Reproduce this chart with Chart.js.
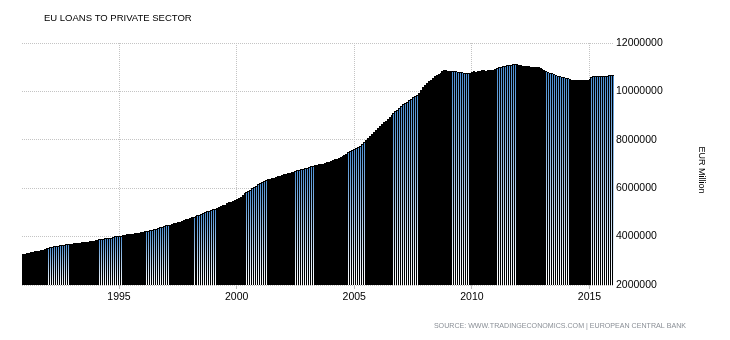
<!DOCTYPE html>
<html><head><meta charset="utf-8">
<script src="https://cdn.jsdelivr.net/npm/chart.js@4"></script>
<style>html,body{margin:0;padding:0;background:#fff}#wrap{width:730px;height:340px}</style>
</head><body><div id="wrap"><canvas id="c" width="730" height="340"></canvas></div>
<script>
const chartTitle = 'EU LOANS TO PRIVATE SECTOR';
const unitLabel = 'EUR Million';
const sourceText = 'SOURCE: WWW.TRADINGECONOMICS.COM | EUROPEAN CENTRAL BANK';
const firstYear = 1990, firstMonth = 12;
const yearTickLabels = ['1995', '2000', '2005', '2010', '2015'];
const yMin = 2000000, yMax = 12000000, yStep = 2000000;

// Monthly values, Dec 1990 .. Dec 1999
const values1990s = [
  3280000,
  3300000, 3320000, 3340000, 3350000, 3370000, 3390000, 3400000, 3420000, 3440000, 3460000, 3490000, 3520000,
  3540000, 3560000, 3580000, 3600000, 3610000, 3620000, 3640000, 3650000, 3660000, 3680000, 3690000, 3700000,
  3710000, 3720000, 3730000, 3740000, 3750000, 3760000, 3770000, 3780000, 3790000, 3800000, 3810000, 3820000,
  3840000, 3860000, 3890000, 3900000, 3910000, 3930000, 3940000, 3950000, 3960000, 3980000, 4010000, 4020000,
  4030000, 4040000, 4060000, 4080000, 4090000, 4100000, 4110000, 4120000, 4140000, 4150000, 4160000, 4180000,
  4200000, 4220000, 4230000, 4250000, 4270000, 4290000, 4310000, 4330000, 4350000, 4380000, 4410000, 4440000,
  4460000, 4480000, 4500000, 4520000, 4550000, 4570000, 4590000, 4620000, 4650000, 4680000, 4710000, 4740000,
  4770000, 4790000, 4810000, 4850000, 4880000, 4910000, 4940000, 4970000, 5000000, 5040000, 5070000, 5100000,
  5130000, 5160000, 5190000, 5220000, 5260000, 5290000, 5320000, 5380000, 5410000, 5440000, 5470000, 5520000
];
// Jan 2000 .. Dec 2009
const values2000s = [
  5550000, 5600000, 5650000, 5700000, 5790000, 5840000, 5890000, 5940000, 5990000, 6060000, 6110000, 6160000,
  6200000, 6240000, 6290000, 6340000, 6360000, 6390000, 6420000, 6440000, 6470000, 6490000, 6520000, 6550000,
  6570000, 6590000, 6610000, 6630000, 6650000, 6680000, 6720000, 6740000, 6760000, 6780000, 6800000, 6820000,
  6850000, 6870000, 6900000, 6920000, 6940000, 6960000, 6980000, 7000000, 7020000, 7050000, 7070000, 7100000,
  7130000, 7160000, 7190000, 7220000, 7250000, 7300000, 7340000, 7380000, 7430000, 7480000, 7520000, 7560000,
  7600000, 7650000, 7700000, 7760000, 7840000, 7920000, 8000000, 8080000, 8150000, 8230000, 8310000, 8400000,
  8480000, 8560000, 8640000, 8720000, 8790000, 8870000, 8950000, 9020000, 9090000, 9170000, 9250000, 9320000,
  9400000, 9470000, 9530000, 9570000, 9630000, 9690000, 9750000, 9810000, 9870000, 9920000, 10050000, 10180000,
  10260000, 10330000, 10410000, 10480000, 10560000, 10620000, 10680000, 10730000, 10780000, 10830000, 10880000, 10880000,
  10860000, 10840000, 10840000, 10830000, 10850000, 10820000, 10800000, 10790000, 10780000, 10770000, 10760000, 10780000
];
// Jan 2010 .. Jan 2016
const values2010s = [
  10800000, 10840000, 10820000, 10850000, 10860000, 10880000, 10870000, 10860000, 10880000, 10870000, 10880000, 10900000,
  10920000, 10960000, 11000000, 11020000, 11040000, 11060000, 11080000, 11100000, 11100000, 11120000, 11140000, 11120000,
  11100000, 11080000, 11050000, 11040000, 11040000, 11030000, 11020000, 11020000, 11010000, 11000000, 11000000, 10980000,
  10940000, 10890000, 10850000, 10810000, 10770000, 10740000, 10700000, 10680000, 10650000, 10630000, 10600000, 10580000,
  10560000, 10540000, 10510000, 10490000, 10470000, 10470000, 10460000, 10460000, 10460000, 10470000, 10470000, 10480000,
  10530000, 10600000, 10630000, 10640000, 10640000, 10640000, 10640000, 10640000, 10630000, 10640000, 10660000, 10680000,
  10670000
];

// style: bar index ranges rendered with the blue-white fill pattern
const stripedBands = [[12,23],[39,50],[63,74],[87,98],[113,124],[139,148],[166,174],[189,201],[219,227],[242,251],[267,278],[290,301]];

const values = values1990s.concat(values2000s, values2010s);
const labels = [];
{
  let y = firstYear, m = firstMonth;
  for (let i = 0; i < values.length; i++) {
    labels.push(y + '-' + String(m).padStart(2, '0'));
    m++; if (m > 12) { m = 1; y++; }
  }
}
const isStriped = i => stripedBands.some(([a, b]) => i >= a && i <= b);
const FONT = '"Liberation Sans", Arial, sans-serif';

// snap bar geometry to whole pixels so the thin bars render crisply
const snapPlugin = {
  id: 'snap',
  beforeDatasetsDraw(chart) {
    chart.getDatasetMeta(0).data.forEach(el => {
      const L = Math.round(el.x - el.width / 2);
      el.x = L + 1;
      el.width = 2;
      el.y = Math.round(el.y);
    });
  }
};

const textPlugin = {
  id: 'texts',
  afterDraw(chart) {
    const ctx = chart.ctx;
    ctx.save();
    ctx.fillStyle = '#000';
    ctx.font = '9.5px ' + FONT;
    ctx.textBaseline = 'alphabetic';
    ctx.textAlign = 'left';
    ctx.fillText(chartTitle, 44, 21);
    ctx.restore();

    ctx.save();
    ctx.translate(701, 170);
    ctx.rotate(Math.PI / 2);
    ctx.fillStyle = '#000';
    ctx.font = '9px ' + FONT;
    ctx.textAlign = 'center';
    ctx.textBaseline = 'middle';
    ctx.fillText(unitLabel, 0, 0);
    ctx.restore();

    ctx.save();
    ctx.fillStyle = '#8a8f96';
    ctx.font = '7.1px ' + FONT;
    ctx.textAlign = 'right';
    ctx.textBaseline = 'middle';
    ctx.fillText(sourceText, 686, 326);
    ctx.restore();
  }
};

new Chart(document.getElementById('c'), {
  type: 'bar',
  data: {
    labels,
    datasets: [{
      data: values,
      categoryPercentage: 1,
      barPercentage: 1,
      inflateAmount: 0,
      borderColor: '#000',
      borderSkipped: false,
      borderWidth: c => isStriped(c.dataIndex) ? {left: 1, top: 1, right: 0, bottom: 0} : 0,
      backgroundColor: c => {
        if (!isStriped(c.dataIndex)) return '#000';
        const chart = c.chart;
        const area = chart.chartArea;
        if (!area || !chart.scales.y) return '#7aa8dc';
        const yTop = chart.scales.y.getPixelForValue(c.raw);
        const g = chart.ctx.createLinearGradient(0, yTop, 0, area.bottom);
        g.addColorStop(0, '#4a8ed2');
        g.addColorStop(1, '#ffffff');
        return g;
      }
    }]
  },
  options: {
    responsive: false,
    animation: false,
    devicePixelRatio: 1,
    layout: {padding: {left: 22, top: 43, right: 0, bottom: 0}},
    plugins: {legend: {display: false}, tooltip: {enabled: false}, title: {display: false}},
    scales: {
      x: {
        offset: true,
        grid: {offset: false, color: '#c4c4c4', drawTicks: true, tickLength: 4, tickColor: '#bdbdbd', tickBorderDash: []},
        border: {display: false, dash: [1, 1]},
        ticks: {
          autoSkip: false, maxRotation: 0, minRotation: 0, padding: 2,
          font: {family: FONT, size: 10.5}, color: '#000',
          callback: v => labels[v].slice(0, 4)
        },
        afterBuildTicks: s => {
          s.ticks = s.ticks.filter(t => {
            const l = labels[t.value];
            return l.endsWith('-01') && yearTickLabels.includes(l.slice(0, 4));
          });
        },
        afterFit: s => { s.height = 55; }
      },
      y: {
        position: 'right',
        min: yMin, max: yMax,
        grid: {color: '#c4c4c4', drawTicks: false},
        border: {display: false, dash: [1, 1]},
        ticks: {
          stepSize: yStep, padding: 2,
          font: {family: FONT, size: 10.5}, color: '#000',
          callback: v => String(v)
        },
        afterFit: s => { s.width = 116; }
      }
    }
  },
  plugins: [snapPlugin, textPlugin]
});
</script>
</body></html>
